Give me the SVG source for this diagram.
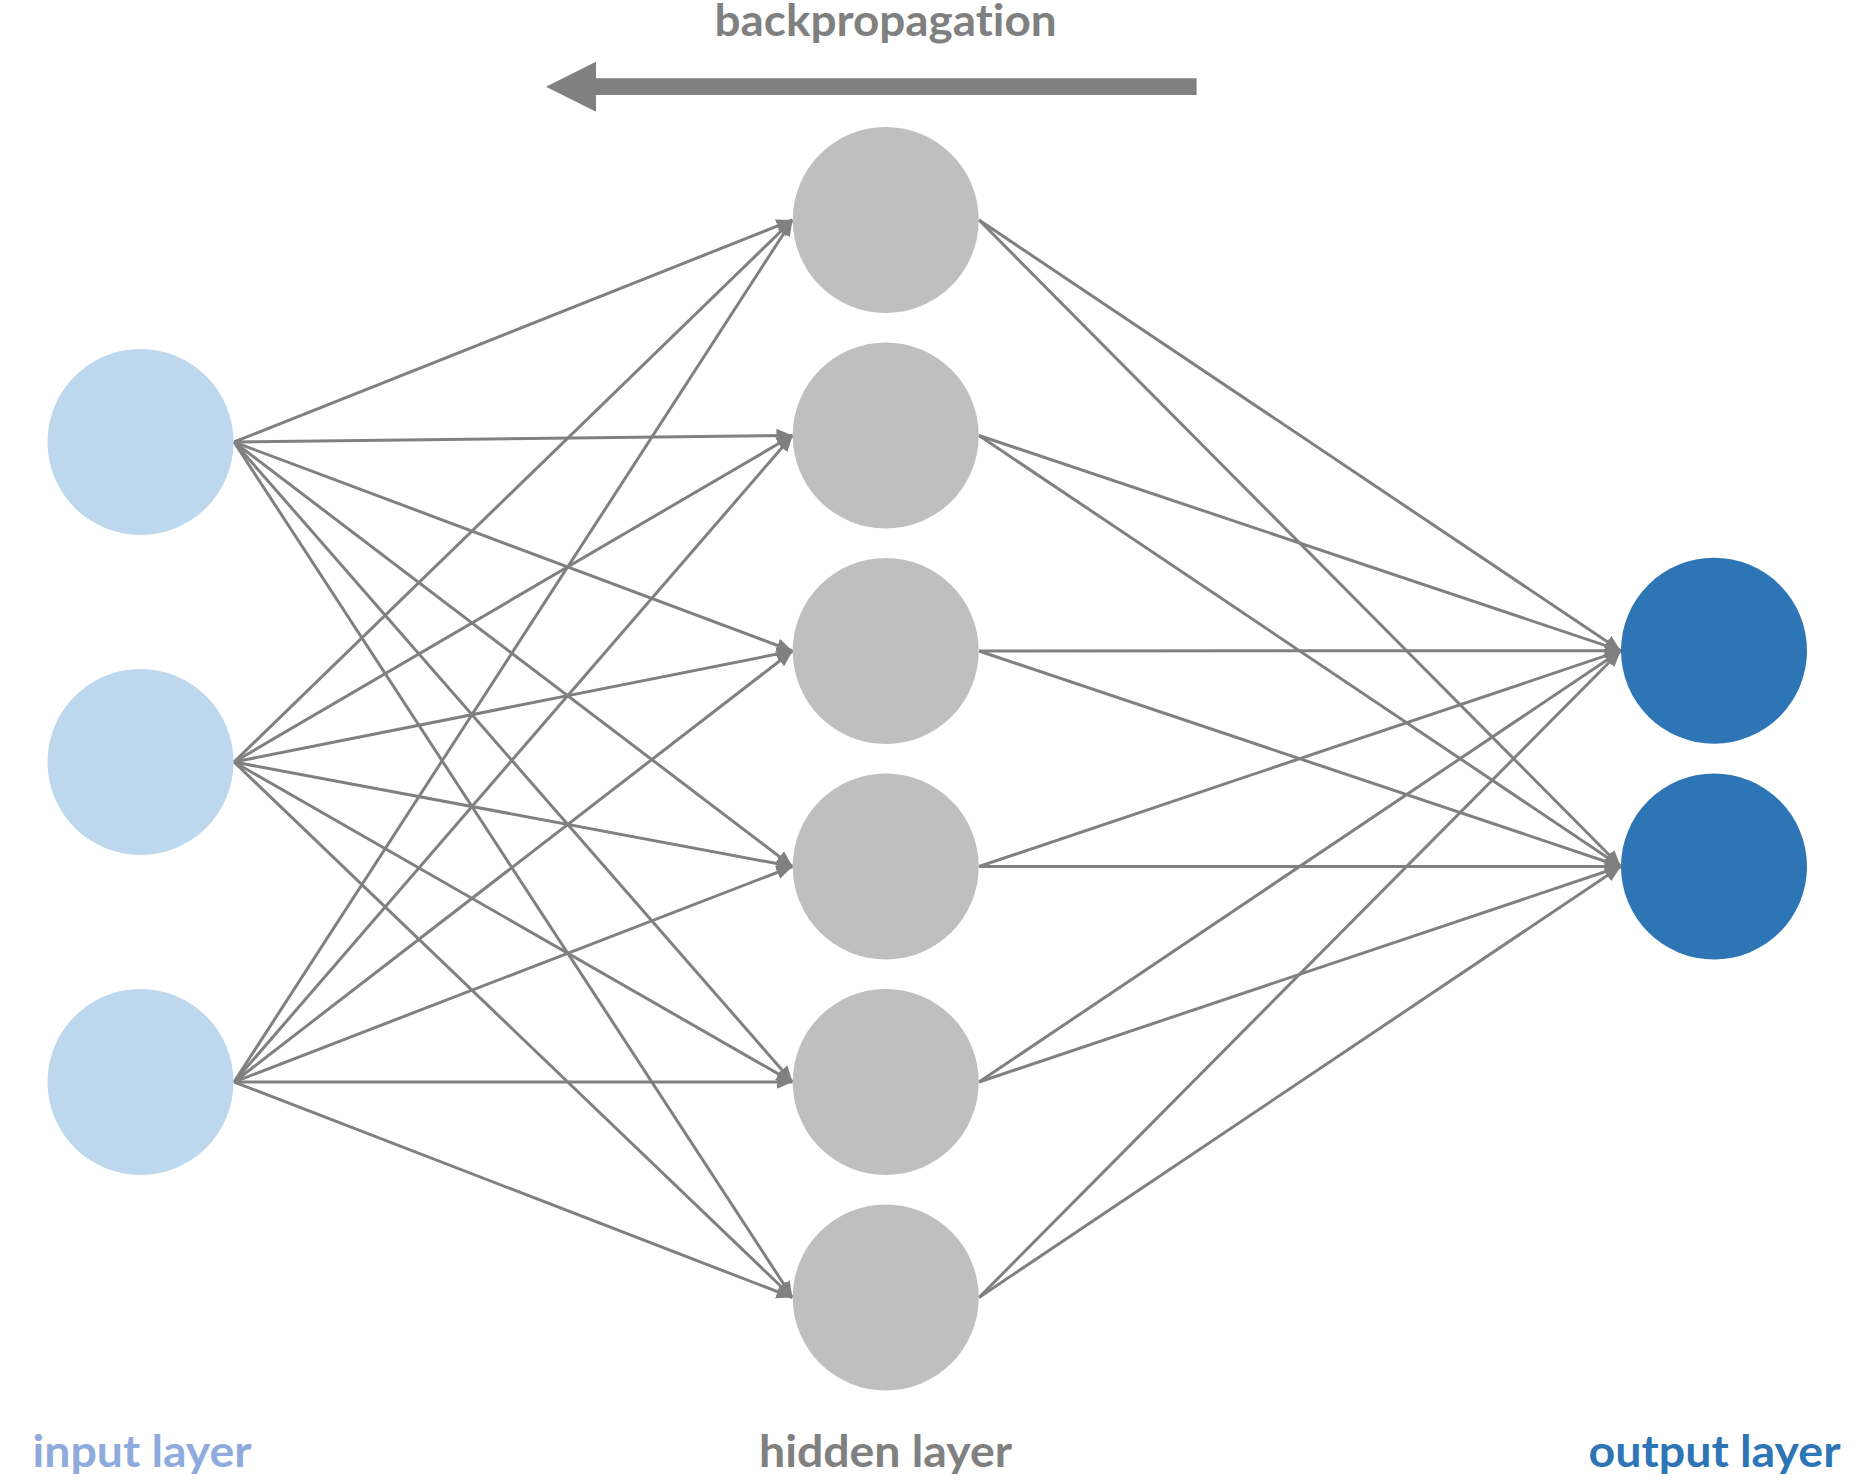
<svg xmlns="http://www.w3.org/2000/svg" width="1864" height="1482" viewBox="0 0 1864 1482">
<style>
.lbl{font-family:Lato,"Open Sans","Liberation Sans",sans-serif;font-weight:bold;font-size:44px;font-variant-ligatures:none}
.edge{stroke:#808080;stroke-width:3;fill:none}
.in{fill:#BDD7EE}
.hid{fill:#BFBFBF}
.out{fill:#2E75B6}
</style>
<defs>
<marker id="ah" markerUnits="userSpaceOnUse" viewBox="0 0 16 16" refX="16" refY="8" markerWidth="16" markerHeight="16" orient="auto">
<path d="M0,1 L16,8 L0,15 Z" fill="#808080"/>
</marker>
</defs>
<rect width="1864" height="1482" fill="#ffffff"/>
<g id="backprop">
<text class="lbl" x="885.6" y="35.5" text-anchor="middle" fill="#808080" textLength="342" lengthAdjust="spacingAndGlyphs">backpropagation</text>
<polygon points="546,86.7 596,61.7 596,78.3 1196.6,78.3 1196.6,95 596,95 596,111.7" fill="#808080"/>
</g>
<g id="connectors" class="edge" marker-end="url(#ah)">
<line x1="234" y1="442" x2="792.5" y2="220"/>
<line x1="234" y1="442" x2="792.5" y2="435.5"/>
<line x1="234" y1="442" x2="792.5" y2="651"/>
<line x1="234" y1="442" x2="792.5" y2="866.5"/>
<line x1="234" y1="442" x2="792.5" y2="1082"/>
<line x1="234" y1="442" x2="792.5" y2="1297.5"/>
<line x1="234" y1="762" x2="792.5" y2="220"/>
<line x1="234" y1="762" x2="792.5" y2="435.5"/>
<line x1="234" y1="762" x2="792.5" y2="651"/>
<line x1="234" y1="762" x2="792.5" y2="866.5"/>
<line x1="234" y1="762" x2="792.5" y2="1082"/>
<line x1="234" y1="762" x2="792.5" y2="1297.5"/>
<line x1="234" y1="1082" x2="792.5" y2="220"/>
<line x1="234" y1="1082" x2="792.5" y2="435.5"/>
<line x1="234" y1="1082" x2="792.5" y2="651"/>
<line x1="234" y1="1082" x2="792.5" y2="866.5"/>
<line x1="234" y1="1082" x2="792.5" y2="1082"/>
<line x1="234" y1="1082" x2="792.5" y2="1297.5"/>
<line x1="979" y1="220" x2="1620.7" y2="650.7"/>
<line x1="979" y1="220" x2="1620.7" y2="866.5"/>
<line x1="979" y1="435.5" x2="1620.7" y2="650.7"/>
<line x1="979" y1="435.5" x2="1620.7" y2="866.5"/>
<line x1="979" y1="651" x2="1620.7" y2="650.7"/>
<line x1="979" y1="651" x2="1620.7" y2="866.5"/>
<line x1="979" y1="866.5" x2="1620.7" y2="650.7"/>
<line x1="979" y1="866.5" x2="1620.7" y2="866.5"/>
<line x1="979" y1="1082" x2="1620.7" y2="650.7"/>
<line x1="979" y1="1082" x2="1620.7" y2="866.5"/>
<line x1="979" y1="1297.5" x2="1620.7" y2="650.7"/>
<line x1="979" y1="1297.5" x2="1620.7" y2="866.5"/>
</g>
<g id="in1"><circle class="in" cx="140.5" cy="442" r="93"/></g>
<g id="in2"><circle class="in" cx="140.5" cy="762" r="93"/></g>
<g id="in3"><circle class="in" cx="140.5" cy="1082" r="93"/></g>
<g id="h1"><circle class="hid" cx="885.7" cy="220" r="93"/></g>
<g id="h2"><circle class="hid" cx="885.7" cy="435.5" r="93"/></g>
<g id="h3"><circle class="hid" cx="885.7" cy="651" r="93"/></g>
<g id="h4"><circle class="hid" cx="885.7" cy="866.5" r="93"/></g>
<g id="h5"><circle class="hid" cx="885.7" cy="1082" r="93"/></g>
<g id="h6"><circle class="hid" cx="885.7" cy="1297.5" r="93"/></g>
<g id="o1"><circle class="out" cx="1714" cy="650.7" r="93"/></g>
<g id="o2"><circle class="out" cx="1714" cy="866.5" r="93"/></g>
<g id="labels">
<text class="lbl" x="142" y="1467" text-anchor="middle" fill="#8FAADC" textLength="219" lengthAdjust="spacingAndGlyphs">input layer</text>
<text class="lbl" x="885.5" y="1467" text-anchor="middle" fill="#808080" textLength="253" lengthAdjust="spacingAndGlyphs">hidden layer</text>
<text class="lbl" x="1714.5" y="1467" text-anchor="middle" fill="#2E75B6" textLength="252" lengthAdjust="spacingAndGlyphs">output layer</text>
</g>
</svg>
